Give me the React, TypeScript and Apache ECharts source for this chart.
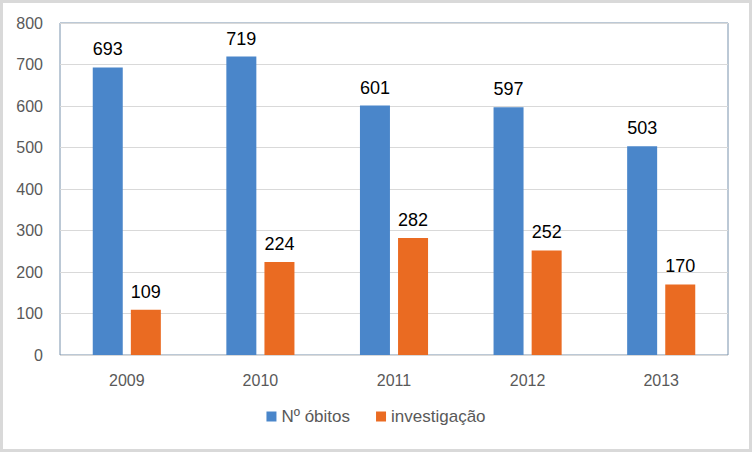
import React, { useEffect, useRef } from "react";
import * as echarts from "echarts";

const categories = ["2009", "2010", "2011", "2012", "2013"];
const obitos = [693, 719, 601, 597, 503];
const investigacao = [109, 224, 282, 252, 170];
const seriesNames = ["Nº óbitos", "investigação"];

export default function App() {
  const ref = useRef<HTMLDivElement>(null);
  useEffect(() => {
    if (!ref.current) return;
    const chart = echarts.init(ref.current, null, { renderer: "svg" });
    const font = "'Liberation Sans', Arial, sans-serif";
    const labelStyle = {
      show: true,
      position: "top" as const,
      distance: 9,
      color: "#000000",
      fontSize: 18,
      fontFamily: font,
    };
    chart.setOption({
      animation: false,
      backgroundColor: "#ffffff",
      graphic: [
        {
          type: "rect",
          shape: { x: 1.5, y: 1.5, width: 749, height: 449 },
          style: { fill: "none", stroke: "#D9D9D9", lineWidth: 3 },
          silent: true,
        },
      ],
      grid: {
        left: 60,
        top: 23,
        right: 24,
        bottom: 97,
        show: true,
        borderColor: "#7892AC",
        borderWidth: 1,
        backgroundColor: "transparent",
      },
      legend: {
        data: seriesNames,
        bottom: 22,
        left: "center",
        icon: "rect",
        itemWidth: 10,
        itemHeight: 10,
        itemGap: 26,
        itemTextGap: 4,
        textStyle: { color: "#595959", fontSize: 17, fontFamily: font },
      },
      xAxis: {
        type: "category",
        data: categories,
        axisLine: { show: false },
        axisTick: { show: false },
        axisLabel: { color: "#595959", fontSize: 16, fontFamily: font, margin: 17 },
      },
      yAxis: {
        type: "value",
        min: 0,
        max: 800,
        interval: 100,
        axisLine: { show: false },
        axisTick: { show: false },
        splitLine: { lineStyle: { color: "#D9D9D9", width: 1 } },
        axisLabel: { color: "#595959", fontSize: 16, fontFamily: font, margin: 17 },
      },
      series: [
        {
          name: seriesNames[0],
          type: "bar",
          data: obitos,
          barWidth: 30,
          barGap: "27%",
          itemStyle: { color: "#4A86CA" },
          label: labelStyle,
        },
        {
          name: seriesNames[1],
          type: "bar",
          data: investigacao,
          barWidth: 30,
          itemStyle: { color: "#EA6B22" },
          label: labelStyle,
        },
      ],
    });
    return () => chart.dispose();
  }, []);
  return (
    <div
      ref={ref}
      style={{ position: "fixed", left: 0, top: 0, width: 752, height: 452 }}
    />
  );
}
